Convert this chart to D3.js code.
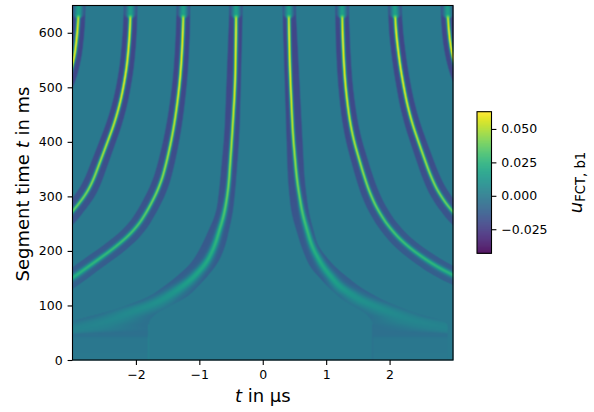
<!DOCTYPE html>
<html><head><meta charset="utf-8">
<script src="https://cdn.jsdelivr.net/npm/d3@7"></script>
<style>html,body{margin:0;padding:0;background:#fff}svg{display:block}text{font-family:"DejaVu Sans",sans-serif;fill:#000}</style>
</head><body><div id="chart"></div>
<script>
// Values: [segment time in ms, t in µs]
const crestR1=[[650,.41],[629,.41],[537,.427],[415,.474],[330,.538],[269,.623],[208,.774],[171,.948],[134,1.21],[110,1.527],[92,1.89],[73,2.315],[60,2.79],[50,3.2]];
const crestR2=[[650,1.25],[629,1.25],[537,1.28],[476,1.326],[415,1.405],[354,1.554],[330,1.617],[299,1.711],[269,1.842],[238,2.027],[208,2.284],[177,2.66],[156,2.989],[140,3.3],[120,3.7]];
const crestR3=[[650,2.08],[629,2.08],[568,2.13],[507,2.21],[446,2.32],[385,2.5],[330,2.67],[299,2.81],[272,2.99],[250,3.17],[225,3.5]];
const crestR4=[[650,2.91],[629,2.91],[598,2.935],[568,2.973],[544,3.0],[500,3.15],[460,3.4]];
const crestL1=[[650,-.42],[629,-.418],[507,-.434],[415,-.481],[317,-.539],[269,-.603],[208,-.76],[177,-.891],[147,-1.128],[122,-1.418],[104,-1.68],[88,-2.054],[73,-2.37],[60,-2.73],[50,-3.2]];
const crestL2=[[650,-1.25],[629,-1.249],[537,-1.285],[476,-1.339],[415,-1.418],[354,-1.533],[317,-1.628],[299,-1.707],[269,-1.838],[238,-2.022],[208,-2.311],[177,-2.68],[150,-3.005],[130,-3.3],[110,-3.7]];
const crestL3=[[650,-2.08],[629,-2.085],[568,-2.112],[507,-2.18],[446,-2.301],[385,-2.495],[317,-2.715],[299,-2.815],[272,-3.0],[250,-3.17],[225,-3.5]];
const crestL4=[[650,-2.9],[629,-2.905],[598,-2.916],[568,-2.957],[528,-3.005],[490,-3.15],[450,-3.4]];
// inner bands: [segment time in ms, band lower t, band upper t]
const bandR1=[[650,.308,.517],[330,.396,.659],[269,.45,.727],[208,.607,.869],[171,.738,1.132],[134,1.027,1.527],[110,1.259,1.89],[85,1.632,2.421],[78,1.68,2.68],[70,1.73,2.89],[65,1.737,2.915],[0,1.737,2.915]];
const bandL1=[[650,-.524,-.314],[415,-.603,-.366],[317,-.681,-.429],[269,-.733,-.472],[208,-.97,-.591],[177,-1.128,-.708],[147,-1.418,-.918],[116,-1.785,-1.181],[92,-2.337,-1.58],[82,-2.68,-1.72],[70,-3.05,-1.8],[0,-3.05,-1.8]];
// outer bands: [segment time in ms, half width across the ridge]
const bandSpread=[[650,.108],[500,.114],[400,.124],[300,.138],[100,.138],[0,.138]];
// [segment time in ms, crest value] for the inner pair and for the outer ridges
const crestInner=[[650,.016],[634,.018],[626,.058],[600,.064],[500,.062],[400,.054],[300,.04],[250,.031],[200,.024],[150,.018],[120,.012],[100,.009],[80,.0065],[60,.0045],[40,.001],[25,0],[0,0]];
const crestOuter=[[650,.016],[634,.018],[626,.058],[600,.064],[500,.062],[400,.054],[300,.043],[250,.035],[200,.029],[150,.024],[100,.02],[0,.02]];
const bandDepth=[[650,-.019],[600,-.021],[400,-.019],[300,-.016],[200,-.013],[150,-.011],[120,-.009],[100,-.0075],[80,-.006],[67,-.005],[45,-.004],[40,-.0012],[0,-.0006]];
// [segment time in ms, crest width across the ridge]
const widthInner=[[650,3],[634,3],[626,1.2],[500,1.15],[400,1.2],[300,1.4],[200,2.4],[150,3.2],[100,5],[70,6.5],[0,7]];
const widthOuter=[[650,3],[634,3],[626,1.2],[500,1.15],[400,1.2],[300,1.3],[200,1.6],[150,2],[0,2]];
// edges of the two low boxes: [t, value]
const boxEdges=[[-1.8,.0025],[1.737,-.002]];
const backgroundValue=0;
const xTicks=[-2,-1,0,1,2];
const yTicks=[0,100,200,300,400,500,600];
const barTicks=[-.025,0,.025,.05];
const valueRange=[-.043,.0629];
const ridgeTables=[[crestR1,crestInner,widthInner,bandR1],[crestR2,crestOuter,widthOuter],[crestR3,crestOuter,widthOuter],[crestR4,crestOuter,widthOuter],[crestL1,crestInner,widthInner,bandL1],[crestL2,crestOuter,widthOuter],[crestL3,crestOuter,widthOuter],[crestL4,crestOuter,widthOuter]];

const W=594,H=412,L=72.5,R=453,T=5.5,B=360;
const x=d3.scaleLinear().domain([-3,3]).range([L,R]);
const y=d3.scaleLinear().domain([0,650]).range([B,T]);
const colour=d3.scaleSequential(d3.interpolateViridis).domain(valueRange);

const lin=(rows,col)=>{const a=rows.slice().sort((p,q)=>p[0]-q[0]);return d3.scaleLinear().domain(a.map(r=>r[0])).range(a.map(r=>r[col])).clamp(true);};
const smoothed=(rows,col)=>{const f=lin(rows,col);return v=>{const w=Math.max(v*.07,1);let s=0;const n=8;for(let k=-n;k<=n;k++)s+=f(v+w*k/n);return s/(2*n+1);};};
const dFn=lin(bandDepth,1),spreadFn=lin(bandSpread,1);
const pxPerT=(R-L)/6,pxPerMs=(B-T)/650;
const ridges=ridgeTables.map(([c,hh,ww,b])=>({c:smoothed(c,1),h:lin(hh,1),w:lin(ww,1),l:b?smoothed(b,1):null,r:b?smoothed(b,2):null}));

const plotW=Math.round(R-L),plotH=Math.round(B-T);
const cv=document.createElement('canvas');cv.width=plotW;cv.height=plotH;
const cx=cv.getContext('2d'),img=cx.createImageData(plotW,plotH);
const soft=(u,e)=>Math.max(0,Math.min(1,.5+u/e));
for(let j=0;j<plotH;j++){
  const time=y.invert(T+j+.5),dp=dFn(time),sp=spreadFn(time);
  const rows=ridges.map(r=>{
    const c=r.c(time),sl=(r.c(time+3)-r.c(time-3))/6*pxPerT/pxPerMs,st=Math.sqrt(1+sl*sl);
    return {c,h:r.h(time),l:r.l?r.l(time):c-sp*st,r:r.r?r.r(time):c+sp*st,s:r.w(time)*st/pxPerT};
  });
  for(let i=0;i<plotW;i++){
    const t=x.invert(L+i+.5);let v=backgroundValue;
    for(const r of rows){
      if(t<r.l-.05||t>r.r+.05)continue;
      const mask=soft((t-r.l)*pxPerT,1.4)*soft((r.r-t)*pxPerT,1.4);
      const e=(t-r.c)/r.s;
      v+=mask*(dp+(r.h-dp)*Math.exp(-.5*e*e));
    }
    if(time<66)for(const [et,ev] of boxEdges)if(Math.abs(t-et)*pxPerT<1)v+=ev;
    const q=d3.rgb(colour(v)),k=(j*plotW+i)*4;
    img.data[k]=q.r;img.data[k+1]=q.g;img.data[k+2]=q.b;img.data[k+3]=255;
  }
}
cx.putImageData(img,0,0);

const svg=d3.select('#chart').append('svg').attr('width',W).attr('height',H);
svg.append('image').attr('x',L).attr('y',T).attr('width',plotW).attr('height',plotH).attr('href',cv.toDataURL());
svg.append('rect').attr('x',L).attr('y',T).attr('width',R-L).attr('height',B-T).attr('fill','none').attr('stroke','#000').attr('stroke-width',1.1);

function style(g){g.select('.domain').remove();g.selectAll('.tick line').attr('stroke','#000').attr('stroke-width',1.1);g.selectAll('text').attr('font-size',12.5).attr('font-family','"DejaVu Sans"').attr('fill','#000');}
svg.append('g').attr('transform',`translate(0,${B})`).call(d3.axisBottom(x).tickValues(xTicks).tickFormat(d3.format('d')).tickSize(4.9).tickPadding(4.9)).call(style);
svg.append('g').attr('transform',`translate(${L},0)`).call(d3.axisLeft(y).tickValues(yTicks).tickFormat(d3.format('d')).tickSize(4.9).tickPadding(4.9)).call(style);

const xl=svg.append('text').attr('x',(L+R)/2).attr('y',402).attr('text-anchor','middle').attr('font-size',18);
xl.append('tspan').attr('font-style','italic').text('t');xl.append('tspan').text(' in µs');
const yl=svg.append('text').attr('transform','translate(28.5,184) rotate(-90)').attr('text-anchor','middle').attr('font-size',18);
yl.append('tspan').text('Segment time ');yl.append('tspan').attr('font-style','italic').text('t');yl.append('tspan').text(' in ms');

const bx=477,bw=14.5,bt=111.7,bb=253.3;
const by=d3.scaleLinear().domain(valueRange).range([bb,bt]);
const barSteps=d3.range(bb,bt,-1);
svg.append('g').selectAll('rect').data(barSteps).join('rect').attr('x',bx).attr('width',bw).attr('y',d=>d-1).attr('height',1.4).attr('fill',d=>colour(by.invert(d-.5)));
svg.append('rect').attr('x',bx).attr('y',bt).attr('width',bw).attr('height',bb-bt).attr('fill','none').attr('stroke','#000').attr('stroke-width',1.1);
svg.append('g').attr('transform',`translate(${bx+bw},0)`).call(d3.axisRight(by).tickValues(barTicks).tickFormat(d3.format('.3f')).tickSize(4.9).tickPadding(4.9)).call(style);
const cl=svg.append('text').attr('transform','translate(582,182.5) rotate(-90)').attr('text-anchor','middle').attr('font-size',18);
cl.append('tspan').attr('font-style','italic').text('u');
cl.append('tspan').attr('dy',2.7).attr('font-size',13.2).text('FCT, b1');
</script></body></html>
